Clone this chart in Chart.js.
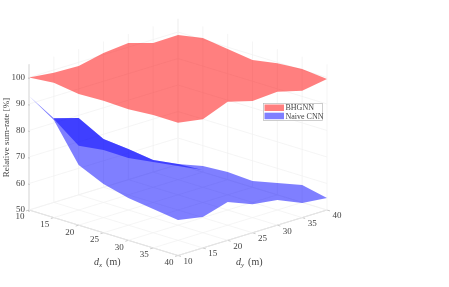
<!DOCTYPE html>
<html>
<head>
<meta charset="utf-8">
<title>Relative sum-rate</title>
<script src="https://cdn.jsdelivr.net/npm/chart.js@4"></script>
<style>
html, body { margin: 0; padding: 0; background: #fff; }
canvas { display: block; }
</style>
</head>
<body>
<canvas id="surf" width="449" height="287"></canvas>
<script>
var dxTicks = [10, 15, 20, 25, 30, 35, 40];
var dyTicks = [10, 15, 20, 25, 30, 35, 40];
var zTicks = [50, 60, 70, 80, 90, 100];
var zTop = 105;

// surface rim: front runs (10,10) -> (40,10) -> (40,40), back runs (10,10) -> (10,40) -> (40,40)
var bhgnnFront = [100, 100.9, 99.5, 99.8, 99.5, 100.2, 100.1, 98.6, 102.3, 99.7, 100.3, 97.9, 99.4];
var bhgnnBack = [100, 98.9, 98.6, 100.7, 101.6, 98.7, 98.9, 100.6, 99.3, 98.0, 99.7, 100.3, 99.4];
var naiveFront = [93, 86.8, 72.7, 68.4, 66, 64.7, 63.4, 61.7, 64.5, 60.8, 59.5, 55.5, 54.5];
var naiveBack = [93, 81.8, 79, 68.2, 61.6, 54.6, 50.2, 52.3, 52.9, 52.4, 54.5, 56.6, 54.5];
// the dx = 15 row, where the surface folds over the dx = 10 row
var naiveFold = [87.2, 74.2, 69.8, 63.9, 59.5, 55.2, 50.8];

var seriesNames = ['BHGNN', 'Naive CNN'];
var red = 'rgba(255, 0, 0, 0.5)';
var blue = 'rgba(0, 0, 255, 0.5)';
var gridColor = '#f0f0f0';
var axisColor = '#b4b4b4';
var textColor = '#444';
var serif = '"Liberation Serif", serif';

// view of the 3d box, the canvas plane is used as the chart's x/y scale
function project(dx, dy, z) {
    return {
        x: 29 + (dx - 10) / 30 * 149 + (dy - 10) / 30 * 149,
        y: 210 + (dx - 10) / 30 * 45.5 - (dy - 10) / 30 * 45.5 - (z - 50) * 2.65
    };
}

function frontPath(values) {
    return values.map(function (z, i) {
        return i < 6 ? project(10 + i * 5, 10, z) : project(40, 10 + (i - 6) * 5, z);
    });
}

function backPath(values) {
    return values.map(function (z, i) {
        return i < 6 ? project(10, 10 + i * 5, z) : project(10 + (i - 6) * 5, 40, z);
    });
}

// lowest order is painted last, so the surfaces sit over the grid
function segment(from, to, color) {
    return {
        data: [project(from[0], from[1], from[2]), project(to[0], to[1], to[2])],
        showLine: true,
        fill: false,
        borderColor: color,
        borderWidth: 0.7,
        pointRadius: 0,
        order: 5
    };
}

function sheet(points, color) {
    return {
        data: points,
        showLine: true,
        fill: color ? '+1' : false,
        backgroundColor: color || 'transparent',
        borderColor: 'transparent',
        borderWidth: 0,
        pointRadius: 0,
        tension: 0,
        order: 1
    };
}

var datasets = [];

// back walls and floor
dyTicks.forEach(function (t) {
    datasets.push(segment([10, t, 50], [40, t, 50], gridColor));
    datasets.push(segment([10, t, 50], [10, t, zTop], gridColor));
});
dxTicks.forEach(function (t) {
    datasets.push(segment([t, 10, 50], [t, 40, 50], gridColor));
    datasets.push(segment([t, 40, 50], [t, 40, zTop], gridColor));
});
zTicks.forEach(function (t) {
    datasets.push(segment([10, 10, t], [10, 40, t], gridColor));
    datasets.push(segment([10, 40, t], [40, 40, t], gridColor));
});

// axis lines and tick marks
datasets.push(segment([10, 10, 50], [10, 10, zTop], axisColor));
datasets.push(segment([10, 10, 50], [40, 10, 50], axisColor));
datasets.push(segment([40, 10, 50], [40, 40, 50], axisColor));
dxTicks.forEach(function (t) {
    datasets.push(segment([t, 10, 50], [t, 9.4, 50], axisColor));
});
dyTicks.forEach(function (t) {
    datasets.push(segment([40, t, 50], [40.6, t, 50], axisColor));
});
zTicks.forEach(function (t) {
    datasets.push(segment([10, 10, t], [10.5, 9.5, t], axisColor));
});

// surfaces
var foldRow = naiveFold.map(function (z, i) { return project(15, 10 + i * 5, z); });
datasets.push(sheet(backPath(naiveBack), blue));
datasets.push(sheet(frontPath(naiveFront), null));
datasets.push(sheet(backPath(naiveBack).slice(1, 7).concat(foldRow[6]), blue));
datasets.push(sheet(foldRow, null));
datasets.push(sheet(backPath(bhgnnBack), red));
datasets.push(sheet(frontPath(bhgnnFront), null));

var labels3d = {
    id: 'labels3d',
    afterDraw: function (chart) {
        var ctx = chart.ctx;
        var sx = chart.scales.x;
        var sy = chart.scales.y;

        function put(p, ox, oy, text, align) {
            ctx.textAlign = align || 'center';
            ctx.fillText(text, sx.getPixelForValue(p.x) + ox, sy.getPixelForValue(p.y) + oy);
        }

        function axisName(p, sub) {
            var x = sx.getPixelForValue(p.x);
            var y = sy.getPixelForValue(p.y);
            ctx.textAlign = 'left';
            ctx.font = 'italic 10px ' + serif;
            ctx.fillText('d', x, y);
            ctx.font = 'italic 7px ' + serif;
            ctx.fillText(sub, x + 5, y + 3);
            ctx.font = '10px ' + serif;
            ctx.fillText('(m)', x + 12, y);
        }

        ctx.save();
        ctx.fillStyle = textColor;
        ctx.textBaseline = 'middle';
        ctx.font = '9px ' + serif;
        zTicks.forEach(function (t) {
            put(project(10, 10, t), -4, 0, String(t), 'right');
        });
        dxTicks.forEach(function (t) {
            put(project(t, 10, 50), -9, 7, String(t));
        });
        dyTicks.forEach(function (t) {
            put(project(40, t, 50), 10, 6, String(t));
        });

        axisName(project(33.7, -0.6, 50), 'x');
        axisName(project(48, 13.7, 50), 'y');

        ctx.save();
        ctx.translate(7, 137.5);
        ctx.rotate(-Math.PI / 2);
        ctx.font = '9px ' + serif;
        ctx.textAlign = 'center';
        ctx.fillText('Relative sum-rate [%]', 0, 0);
        ctx.restore();

        // legend
        ctx.fillStyle = '#fff';
        ctx.fillRect(263.5, 103.5, 59, 17);
        ctx.strokeStyle = '#b8b8b8';
        ctx.lineWidth = 0.7;
        ctx.strokeRect(263.5, 103.5, 59, 17);
        ctx.font = '8px ' + serif;
        ctx.textAlign = 'left';
        [red, blue].forEach(function (c, i) {
            ctx.fillStyle = c;
            ctx.fillRect(264.5, 104.5 + i * 8.2, 19.5, 6.5);
            ctx.fillStyle = textColor;
            ctx.fillText(seriesNames[i], 285.5, 108 + i * 8.6);
        });
        ctx.restore();
    }
};

var surf = new Chart(document.getElementById('surf'), {
    type: 'scatter',
    data: { datasets: datasets },
    plugins: [labels3d],
    options: {
        responsive: false,
        animation: false,
        layout: { padding: 0 },
        plugins: { legend: { display: false }, tooltip: { enabled: false } },
        scales: {
            x: { type: 'linear', display: false, min: 0, max: 449 },
            y: { type: 'linear', display: false, min: 0, max: 287, reverse: true }
        }
    }
});
</script>
</body>
</html>
